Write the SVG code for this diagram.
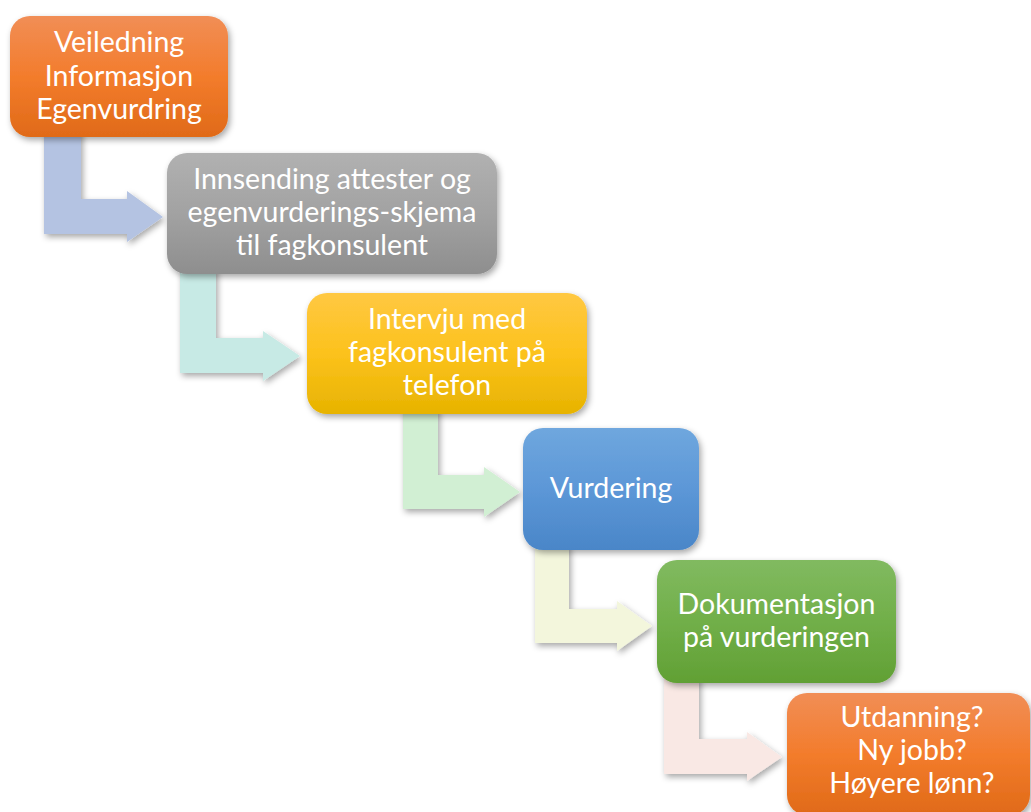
<svg xmlns="http://www.w3.org/2000/svg" width="1031" height="812" viewBox="0 0 1031 812">
<defs>
  <filter id="sh" x="-10%" y="-10%" width="130%" height="130%">
    <feDropShadow dx="2" dy="3" stdDeviation="3" flood-color="#000" flood-opacity="0.35"/>
  </filter>
  <linearGradient id="gOrange" x1="0" y1="0" x2="0" y2="1">
    <stop offset="0" stop-color="#F18E56"/>
    <stop offset="0.5" stop-color="#F37C2C"/>
    <stop offset="1" stop-color="#E06A18"/>
  </linearGradient>
  <linearGradient id="gGray" x1="0" y1="0" x2="0" y2="1">
    <stop offset="0" stop-color="#B1B1B1"/>
    <stop offset="0.5" stop-color="#A2A2A2"/>
    <stop offset="1" stop-color="#8E8E8E"/>
  </linearGradient>
  <linearGradient id="gGold" x1="0" y1="0" x2="0" y2="1">
    <stop offset="0" stop-color="#FFC842"/>
    <stop offset="0.5" stop-color="#FCC21C"/>
    <stop offset="1" stop-color="#E7B300"/>
  </linearGradient>
  <linearGradient id="gBlue" x1="0" y1="0" x2="0" y2="1">
    <stop offset="0" stop-color="#6FA7DE"/>
    <stop offset="0.5" stop-color="#5C97D7"/>
    <stop offset="1" stop-color="#4A86C8"/>
  </linearGradient>
  <linearGradient id="gGreen" x1="0" y1="0" x2="0" y2="1">
    <stop offset="0" stop-color="#81BA60"/>
    <stop offset="0.5" stop-color="#71AF49"/>
    <stop offset="1" stop-color="#61A034"/>
  </linearGradient>
</defs>
<style>
  .box { filter: url(#sh); }
  .arr { filter: url(#sh); }
  .t { font-family: Lato, "Open Sans", "Liberation Sans", sans-serif; font-size: 28.5px; fill: #FFFFFF; text-anchor: middle; }
</style>
<rect width="1031" height="812" fill="#FFFFFF"/>
<g id="connectors">
  <path class="arr" fill="#B4C3E2" d="M44,130 L81,130 L81,199 L127,199 L127,191 L163,217 L127,242 L127,234 L44,234 Z"/>
  <path class="arr" fill="#C7EAE5" d="M180,268 L216,268 L216,338 L263,338 L263,331 L300,356 L263,381 L263,373 L180,373 Z"/>
  <path class="arr" fill="#D1EFD3" d="M403,408 L438,408 L438,475 L484,475 L484,467 L520,492 L484,517 L484,509 L403,509 Z"/>
  <path class="arr" fill="#F3F6DC" d="M535,544 L569,544 L569,609 L617,609 L617,601 L652,626 L617,651 L617,643 L535,643 Z"/>
  <path class="arr" fill="#F9E8E4" d="M664,677 L699,677 L699,739 L747,739 L747,732 L782,757 L747,781 L747,774 L664,774 Z"/>
</g>
<g id="node1">
  <rect class="box" x="10" y="16" width="218" height="121" rx="20" fill="url(#gOrange)"/>
  <text class="t" x="119" y="52">Veiledning</text>
  <text class="t" x="119" y="85.5">Informasjon</text>
  <text class="t" x="119" y="119">Egenvurdring</text>
</g>
<g id="node2">
  <rect class="box" x="167" y="153" width="330" height="121" rx="20" fill="url(#gGray)"/>
  <text class="t" x="332" y="189">Innsending attester og</text>
  <text class="t" x="332" y="222">egenvurderings-skjema</text>
  <text class="t" x="332" y="255">til fagkonsulent</text>
</g>
<g id="node3">
  <rect class="box" x="307" y="293" width="280" height="121" rx="20" fill="url(#gGold)"/>
  <text class="t" x="447" y="329">Intervju med</text>
  <text class="t" x="447" y="362">fagkonsulent på</text>
  <text class="t" x="447" y="395">telefon</text>
</g>
<g id="node4">
  <rect class="box" x="523" y="428" width="176" height="122" rx="20" fill="url(#gBlue)"/>
  <text class="t" x="611" y="498">Vurdering</text>
</g>
<g id="node5">
  <rect class="box" x="657" y="560" width="239" height="123" rx="20" fill="url(#gGreen)"/>
  <text class="t" x="776.5" y="614">Dokumentasjon</text>
  <text class="t" x="776.5" y="647">på vurderingen</text>
</g>
<g id="node6">
  <rect class="box" x="787" y="693" width="243" height="122" rx="20" fill="url(#gOrange)"/>
  <text class="t" x="912" y="727">Utdanning?</text>
  <text class="t" x="912" y="760">Ny jobb?</text>
  <text class="t" x="912" y="793">Høyere lønn?</text>
</g>
</svg>
